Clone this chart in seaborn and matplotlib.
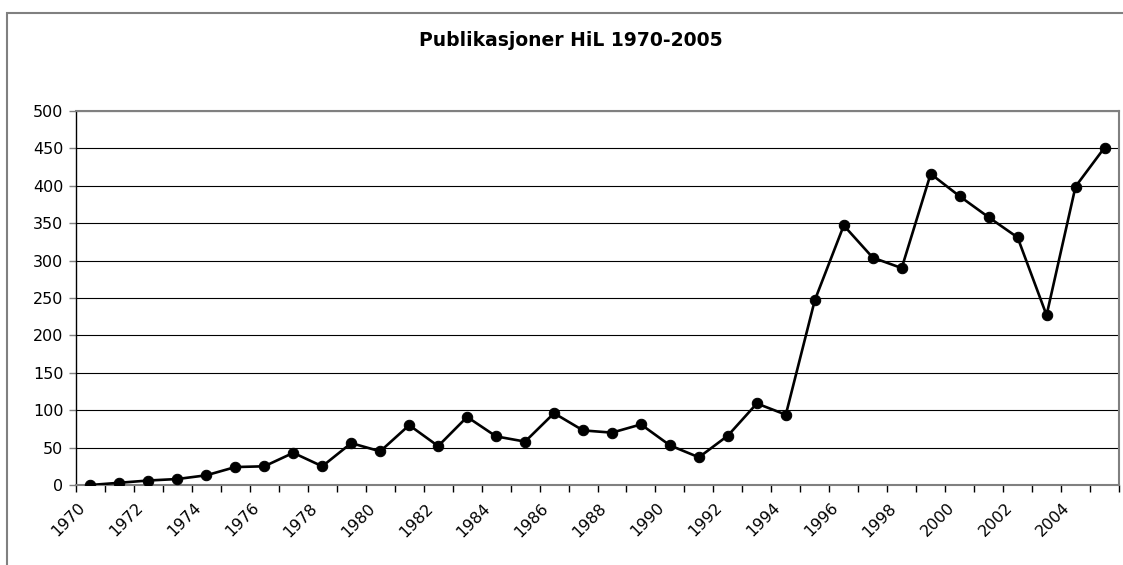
import numpy as np
import pandas as pd
import seaborn as sns
import matplotlib.pyplot as plt
from matplotlib.patches import Rectangle

# Data
years = list(range(1970, 2006))
publications = [0, 3, 6, 8, 13, 24, 25, 43, 25, 56,
                45, 80, 52, 91, 65, 58, 96, 73, 70, 81,
                53, 37, 66, 109, 94, 247, 347, 304, 290, 416,
                386, 358, 331, 227, 399, 451]
y_ticks = [0, 50, 100, 150, 200, 250, 300, 350, 400, 450, 500]

df = pd.DataFrame({'pos': np.arange(len(years)), 'year': years, 'n': publications})

sns.set_theme(style='white')
plt.rcParams['font.family'] = ['DejaVu Sans']
plt.rcParams['text.color'] = 'black'
plt.rcParams['xtick.color'] = 'black'
plt.rcParams['ytick.color'] = 'black'

fig = plt.figure(figsize=(11.23, 5.65), dpi=100)
ax = fig.add_axes([76 / 1123, 1 - 485 / 565, (1119 - 76) / 1123, (485 - 111) / 565])

# Outer chart border (cut off at right and bottom like the reference)
fig.patches.append(Rectangle((7 / 1123, -0.1), 1.2, 1 - 13 / 565 + 0.1,
                             transform=fig.transFigure, fill=False,
                             edgecolor='#808080', linewidth=1.5, zorder=0))

sns.lineplot(data=df, x='pos', y='n', ax=ax, color='black', linewidth=1.9,
             marker='o', markersize=7.5, markeredgecolor='black',
             markerfacecolor='black', zorder=3)

ax.set_xlim(-0.5, len(years) - 0.5)
ax.set_ylim(0, 500)
ax.set_yticks(y_ticks)
ax.set_yticklabels([str(v) for v in y_ticks], fontsize=11.5)

# Category axis: tick marks between categories, labels on every other year
ax.set_xticks(np.arange(len(years) + 1) - 0.5)
ax.set_xticklabels([])
# rotated labels end a little left of the category centre, like Excel
label_pos = [p - 0.45 for p, yr in zip(df['pos'], years) if yr % 2 == 0]
ax.set_xticks(label_pos, minor=True)
ax.set_xticklabels([str(yr) for yr in years if yr % 2 == 0], minor=True,
                   rotation=45, ha='right', va='top',
                   rotation_mode='anchor', fontsize=11.5)
ax.tick_params(axis='x', which='minor', bottom=True, length=0, pad=11)
ax.tick_params(axis='x', which='major', bottom=True, direction='out',
               length=5, color='black', width=1)
ax.tick_params(axis='y', left=True, direction='out', length=5,
               color='#808080', width=1, pad=4)

ax.grid(axis='y', color='black', linewidth=0.8)
ax.set_axisbelow(True)
for side in ['top', 'right', 'bottom']:
    ax.spines[side].set_color('#808080')
    ax.spines[side].set_linewidth(1.5)
ax.spines['left'].set_color('black')
ax.spines['left'].set_linewidth(1)

ax.set_xlabel('')
ax.set_ylabel('')
fig.text(571 / 1123, 1 - 41 / 565, 'Publikasjoner HiL 1970-2005',
         ha='center', va='center', fontsize=13.5, fontweight='bold')

fig.savefig('out.png', dpi=100)
